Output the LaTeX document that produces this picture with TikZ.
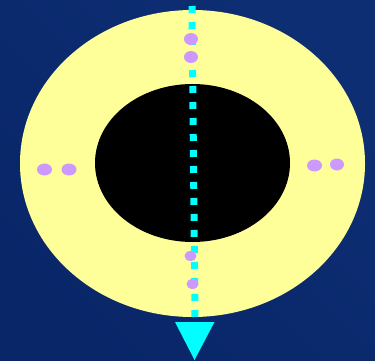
\documentclass[tikz,border=0pt]{standalone}
\begin{document}
\begin{tikzpicture}[x=1pt,y=-1pt,
  dotstyle/.style={fill=lilac,draw=none},
  flowline/.style={draw=aqua,line width=7pt,dash pattern=on 7pt off 9pt}]
\definecolor{bgblue}{HTML}{082668}
\definecolor{bgblue2}{HTML}{0E2E74}
\definecolor{paleyellow}{HTML}{FFFF99}
\definecolor{lilac}{HTML}{CC99FF}
\definecolor{aqua}{HTML}{00FFFF}
\useasboundingbox (0,0) rectangle (375,361);
\shade[left color=bgblue,right color=bgblue2,shading angle=135] (0,0) rectangle (375,361);
\fill[paleyellow] (192.5,163.5) ellipse [x radius=172.5, y radius=153.5];
\fill[black] (192.5,163) ellipse [x radius=97.5, y radius=79];
\coordinate (top) at (192,6);
\coordinate (bot) at (195,318);
\draw[flowline] (top) -- (bot);
\fill[aqua] (175,322) -- (214.5,322) -- (194.5,360) -- cycle;
\foreach \p/\rx/\ry in {{191,39}/7/6,{191,57}/7/6,{190.5,256}/6/5,{192.5,284}/6/5,
  {44.5,169.5}/7.5/6,{69,169.5}/7.5/6,{314.5,165.5}/7.5/6,{337,164.5}/7/6}
  \fill[dotstyle] (\p) ellipse [x radius=\rx, y radius=\ry];
\end{tikzpicture}
\end{document}
